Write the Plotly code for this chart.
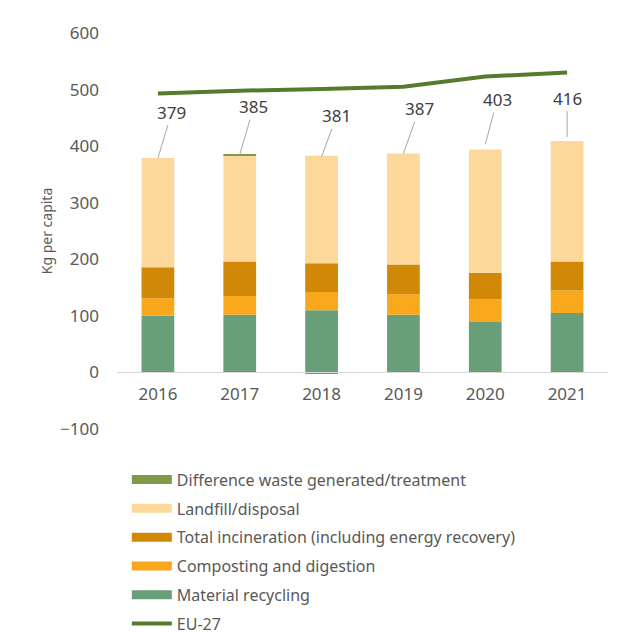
"""
Municipal waste treatment per capita, 2016-2021, stacked by treatment type,
with the EU-27 total generated as a line.
"""
import plotly.graph_objects as go

# ── Data (kg per capita) ────────────────────────────────────────────────
years = ['2016', '2017', '2018', '2019', '2020', '2021']

material_recycling = [100, 102, 110, 102, 89, 105]
composting_digestion = [31, 33, 32, 36, 40, 40]
total_incineration = [55, 61, 51, 53, 47, 51]
landfill_disposal = [193, 187, 190, 196, 218, 213]
difference_generated_treatment = [0, 2, -2, 0, 0, 0]

waste_generated = [379, 385, 381, 387, 403, 416]
eu27_generated = [493, 498, 501, 505, 523, 530]

series_names = [
    'Difference waste generated/treatment',
    'Landfill/disposal',
    'Total incineration (including energy recovery)',
    'Composting and digestion',
    'Material recycling',
]

# label offsets (px) from the bar total to the label text
label_dx = [14, 14, 15, 16, 12, 0]
label_dy = [-46, -48, -41, -45, -45, -39]

colors = {
    'Difference waste generated/treatment': '#7f9a48',
    'Landfill/disposal': '#fdd89b',
    'Total incineration (including energy recovery)': '#d18806',
    'Composting and digestion': '#f8a81a',
    'Material recycling': '#689f79',
}
eu_color = '#577a2c'

stack = [
    ('Material recycling', material_recycling),
    ('Composting and digestion', composting_digestion),
    ('Total incineration (including energy recovery)', total_incineration),
    ('Landfill/disposal', landfill_disposal),
    ('Difference waste generated/treatment', difference_generated_treatment),
]

fig = go.Figure()

# legend entries first (wide swatches, like the original); they draw nothing
for name in series_names:
    fig.add_trace(go.Scatter(
        x=years[:1], y=[None], name=name, mode='lines',
        line=dict(color=colors[name], width=9),
        legendgroup=name, showlegend=True, hoverinfo='skip',
    ))
fig.add_trace(go.Scatter(
    x=years[:1], y=[None], name='EU-27', mode='lines',
    line=dict(color=eu_color, width=4),
    legendgroup='EU-27', showlegend=True, hoverinfo='skip',
))

# bars, bottom to top
for name, values in stack:
    fig.add_trace(go.Bar(
        x=years, y=values, name=name,
        marker=dict(color=colors[name], line=dict(width=0)),
        legendgroup=name, showlegend=False,
        hovertemplate='%{x}: %{y}<extra>' + name + '</extra>',
    ))

fig.add_trace(go.Scatter(
    x=years, y=eu27_generated, name='EU-27', mode='lines',
    line=dict(color=eu_color, width=4),
    legendgroup='EU-27', showlegend=False,
))

# total labels with leader lines (x given as category index)
for i, (total, dx, dy) in enumerate(zip(waste_generated, label_dx, label_dy)):
    fig.add_annotation(
        x=i, y=total, text=str(total),
        showarrow=True, arrowhead=0, arrowwidth=1, arrowcolor='#a6a6a6',
        ax=dx, ay=dy, standoff=0,
        font=dict(size=17, color='#404040'),
    )

fig.update_layout(
    width=626, height=632,
    barmode='relative', bargap=0.6,
    plot_bgcolor='white', paper_bgcolor='white',
    font=dict(family='Noto Sans', color='#595959', size=16),
    margin=dict(l=109, r=26, t=25, b=211, autoexpand=False),
    legend=dict(
        x=0.02, xanchor='left', y=-0.085, yanchor='top',
        traceorder='grouped', itemwidth=40, tracegroupgap=5,
        font=dict(size=16, color='#595959'),
    ),
    showlegend=True,
)
fig.update_xaxes(
    type='category', categoryorder='array', categoryarray=years,
    range=[-0.5, len(years) - 0.5],
    anchor='free', position=1 / 7,
    showline=True, linecolor='#d9d9d9', linewidth=1,
    showgrid=False, ticks='', ticklabelstandoff=6,
    tickfont=dict(size=17, color='#595959'),
)
fig.update_yaxes(
    range=[-100, 600], dtick=100, showgrid=False, zeroline=False,
    showline=False, ticks='', ticklabelstandoff=17,
    tickfont=dict(size=17, color='#595959'),
    title=dict(text='Kg per capita', font=dict(size=14, color='#595959'), standoff=4),
)

fig.write_html("out.html")
